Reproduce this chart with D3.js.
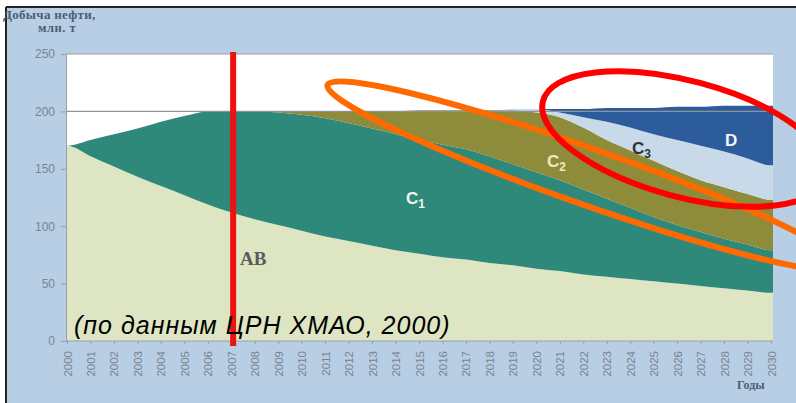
<!DOCTYPE html>
<html><head><meta charset="utf-8">
<script src="https://cdn.jsdelivr.net/npm/d3@7/dist/d3.min.js"></script>
<style>html,body{margin:0;padding:0;background:#fff;}svg{display:block;}</style>
</head><body>
<script>
const years = d3.range(2000, 2031);
const AB = [170,161,152,143,135,127,119,112,106,101,96,91,87,83,79,76,73,71,68,66,63,61,58,56,54,52,50,48,46,44,42];
const C1 = [0,14,28,42,56,69,81,88,94,98,101,103,103,102,101,99,98,96,93,88,84,79,74,68,62,56,51,47,43,40,37];
const C2 = [0,0,0,0,0,0,0,0,0,1,3,6,10,15,20,26,30,34,40,47,52,55,54,51,50,49,47,45,45,44,44];
const C3 = [0,0,0,0,0,0,0,0,0,0,0,0,0,0,0,0,0,0,0,1,3,4,9,16,20,23,27,30,31,31,30];
const D  = [0,0,0,0,0,0,0,0,0,0,0,0,0,0,0,0,0,0,0,0,0,3,7,12,17,23,29,34,40,46,52];
const yTicks = [0,50,100,150,200,250];
const keys = ["AB","C1","C2","C3","D"];
const colors = {AB:"#dee5c2", C1:"#2f897b", C2:"#8e8c3b", C3:"#c8d9ea", D:"#2c5c9b"};

const W = 796, H = 403;
const svg = d3.select("body").append("svg").attr("width", W).attr("height", H);
svg.append("rect").attr("width", W).attr("height", H).attr("fill", "#fff");
svg.append("rect").attr("x", 6).attr("y", 8).attr("width", W-6).attr("height", H-8).attr("fill", "#b8cee5");
svg.append("line").attr("x1",6).attr("x2",W).attr("y1",7).attr("y2",7).attr("stroke","#222").attr("stroke-width",2);
svg.append("line").attr("x1",6).attr("x2",6).attr("y1",7).attr("y2",H).attr("stroke","#222").attr("stroke-width",2);

const x = d3.scaleLinear().domain([2000, 2030]).range([67, 771]);
const y = d3.scaleLinear().domain([0, 250]).range([341, 54]);
const plotL = 66, plotR = 773;

svg.append("rect").attr("x", plotL).attr("y", y(250)).attr("width", plotR-plotL).attr("height", y(0)-y(250)).attr("fill", "#fff");

const table = years.map((yr,i)=>({year:yr, AB:AB[i], C1:C1[i], C2:C2[i], C3:C3[i], D:D[i]}));
const stack = d3.stack().keys(keys)(table);
const area = d3.area().x(d=>x(d.data.year)).y0(d=>y(d[0])).y1(d=>y(d[1])).curve(d3.curveMonotoneX);
svg.append("clipPath").attr("id", "plotclip").append("rect").attr("x", plotL).attr("y", y(250)).attr("width", plotR-plotL).attr("height", y(0)-y(250));
const g = svg.append("g").attr("clip-path", "url(#plotclip)");
g.selectAll("path.layer").data(stack).join("path").attr("class","layer")
  .attr("d", s => {
    const ext = [Object.assign([s[0][0], s[0][1]], {data:{year:1999.9}}), ...s, Object.assign([s[s.length-1][0], s[s.length-1][1]], {data:{year:2030.2}})];
    return area(ext);
  })
  .attr("fill", s => colors[s.key]);

// gridlines
svg.append("line").attr("x1", plotL).attr("x2", plotR).attr("y1", y(200)).attr("y2", y(200)).attr("stroke", "#8f9399").attr("stroke-width", 1.2);
svg.append("line").attr("x1", plotL).attr("x2", plotR).attr("y1", y(250)).attr("y2", y(250)).attr("stroke", "#9a9ea6").attr("stroke-width", 1.2);

const font = "Arial, 'Liberation Sans', sans-serif";
const serif = "'Liberation Serif', 'DejaVu Serif', serif";
// axes
const yAxis = svg.append("g").attr("transform", `translate(${plotL},0)`)
  .call(d3.axisLeft(y).tickValues(yTicks).tickSize(5).tickPadding(6));
yAxis.select(".domain").attr("stroke", "#9a9ea6");
yAxis.selectAll(".tick line").attr("stroke", "#9a9ea6");
yAxis.selectAll("text").attr("fill", "#7b838e").style("font-family", font).style("font-size", "12px");

const xAxis = svg.append("g").attr("transform", `translate(0,${y(0)})`)
  .call(d3.axisBottom(x).tickValues(years).tickFormat(d3.format("d")).tickSize(3).tickSizeOuter(0));
xAxis.select(".domain").attr("stroke", "#9a9ea6").attr("d", `M${plotL},0H${plotR}`);
xAxis.selectAll(".tick line").attr("stroke", "#9a9ea6");
xAxis.selectAll("text").attr("fill", "#7b838e").style("font-family", font).style("font-size", "11.5px")
  .attr("text-anchor", "end").attr("transform", "rotate(-90)").attr("x", -10).attr("y", 0).attr("dy", "0.35em");

// titles
svg.append("text").attr("x", 3).attr("y", 19).text("Добыча нефти,")
  .style("font-family", serif).style("font-weight", "bold").style("font-size", "13px").style("letter-spacing", "0.3px").attr("fill", "#4d5d74");
svg.append("text").attr("x", 38).attr("y", 32).text("млн. т")
  .style("font-family", serif).style("font-weight", "bold").style("font-size", "12.5px").style("letter-spacing", "0.5px").attr("fill", "#4d5d74");
svg.append("text").attr("x", 737).attr("y", 389).text("Годы")
  .style("font-family", serif).style("font-weight", "bold").style("font-size", "12px").attr("fill", "#4d5d74");

// area labels
svg.append("text").attr("x", 240).attr("y", 265).text("AB")
  .style("font-family", serif).style("font-weight", "bold").style("font-size", "19px").attr("fill", "#565c5c");
function cLabel(xp, yp, letter, sub, fill){
  const t = svg.append("text").attr("x", xp).attr("y", yp)
    .style("font-family", font).style("font-weight", "bold").style("font-size", "17px").attr("fill", fill);
  t.append("tspan").text(letter);
  if (sub) t.append("tspan").attr("dy", 4).style("font-size", "12px").text(sub);
}
cLabel(406, 204, "C", "1", "#f2f5ef");
cLabel(547, 167, "C", "2", "#f0e8c4");
cLabel(632, 154, "C", "3", "#2d333d");
cLabel(725, 146, "D", null, "#f4f6fa");

// annotations
svg.append("line").attr("x1", x(2007.08)).attr("x2", x(2007.08)).attr("y1", 52).attr("y2", 346)
  .attr("stroke", "#ee1111").attr("stroke-width", 6);
svg.append("ellipse").attr("cx", 586).attr("cy", 176).attr("rx", 274).attr("ry", 28)
  .attr("transform", "rotate(19.4,586,176)").attr("fill", "none").attr("stroke", "#ff6a00").attr("stroke-width", 6);
svg.append("ellipse").attr("cx", 685).attr("cy", 139).attr("rx", 147).attr("ry", 58)
  .attr("transform", "rotate(15,685,139)").attr("fill", "none").attr("stroke", "#ff0000").attr("stroke-width", 6);

svg.append("text").attr("x", 74).attr("y", 334).text("(по данным ЦРН ХМАО, 2000)")
  .style("font-family", font).style("font-style", "italic").style("font-size", "25px").style("letter-spacing", "1px").attr("fill", "#000");
</script>
</body></html>
